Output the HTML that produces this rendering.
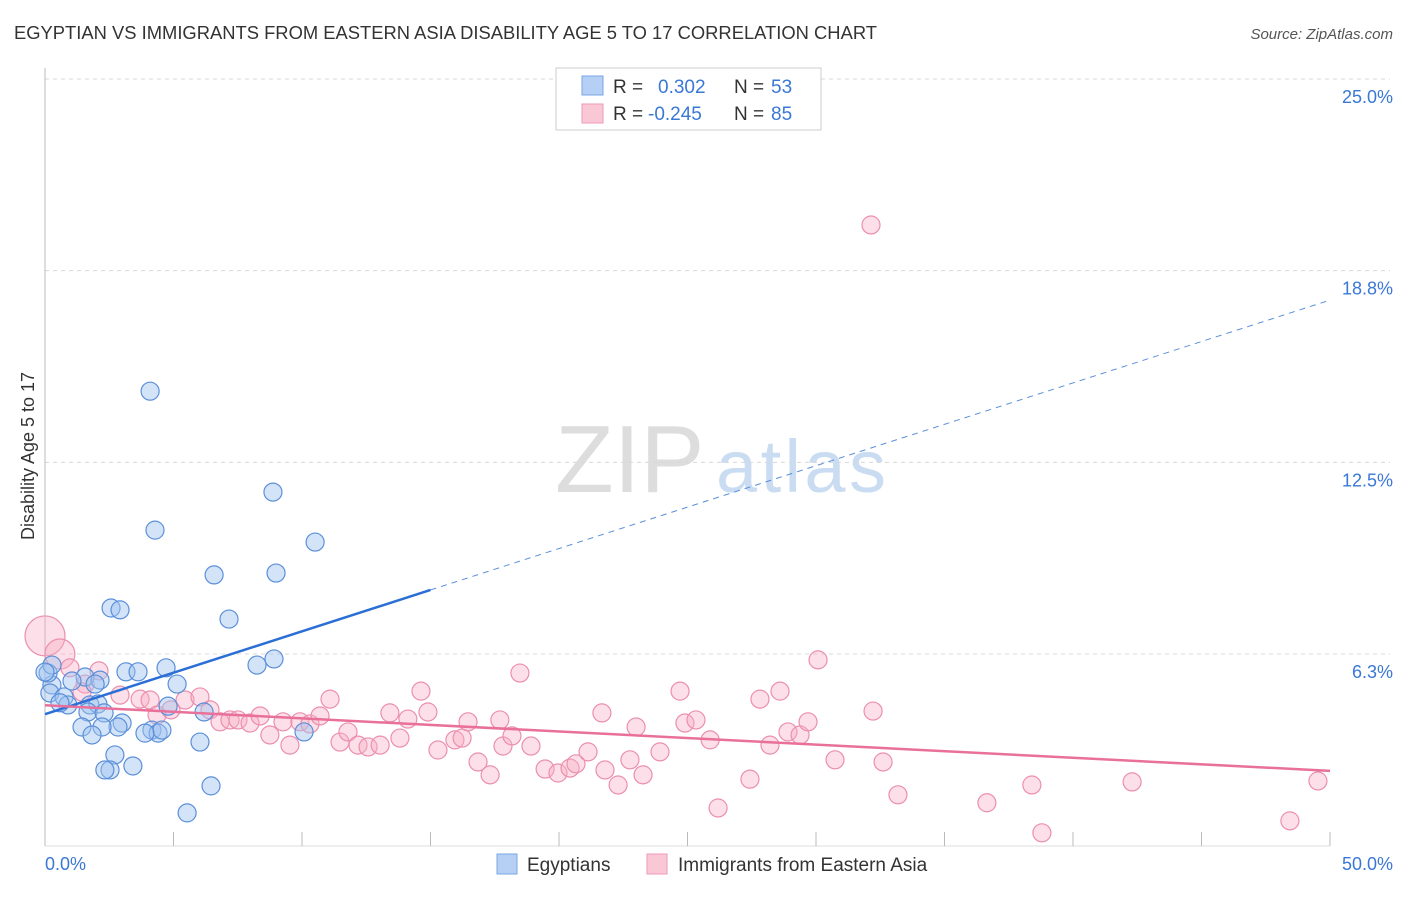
<!DOCTYPE html>
<html><head><meta charset="utf-8"><style>
body{margin:0;background:#fff;font-family:"Liberation Sans",sans-serif}
svg text{font-family:"Liberation Sans",sans-serif}
</style></head><body>
<svg id="c" width="1406" height="892" viewBox="0 0 1406 892">
<text x="14" y="39" font-size="18" fill="#333" textLength="863" lengthAdjust="spacingAndGlyphs">EGYPTIAN VS IMMIGRANTS FROM EASTERN ASIA DISABILITY AGE 5 TO 17 CORRELATION CHART</text>
<text x="1393" y="39" font-size="15" fill="#555" font-style="italic" text-anchor="end">Source: ZipAtlas.com</text>
<text x="555" y="492" font-size="96" fill="#ddd" font-family="Liberation Serif,serif">ZIP</text>
<text x="716" y="492" font-size="74" fill="#c9dcf2" textLength="170">atlas</text>
<g id="grid"></g>
<g id="marks"></g>
<text transform="translate(34,456) rotate(-90)" font-size="18" fill="#333" text-anchor="middle">Disability Age 5 to 17</text>
<g>
<rect x="556" y="68" width="265" height="62" fill="#fff" stroke="#ccc"/>
<rect x="582" y="76" width="21" height="19" fill="#b6d0f5" stroke="#7aa6e6"/>
<rect x="582" y="104" width="21" height="19" fill="#f9c7d5" stroke="#ee9ab4"/>
<text x="613" y="93" font-size="19" fill="#333">R = </text><text x="658" y="93" font-size="19" fill="#3a78d6">0.302</text>
<text x="734" y="93" font-size="19" fill="#333">N = </text><text x="771" y="93" font-size="19" fill="#3a78d6">53</text>
<text x="613" y="120" font-size="19" fill="#333">R = </text><text x="648" y="120" font-size="19" fill="#3a78d6">-0.245</text>
<text x="734" y="120" font-size="19" fill="#333">N = </text><text x="771" y="120" font-size="19" fill="#3a78d6">85</text>
</g>
<g>
<rect x="497" y="854" width="20" height="20" fill="#b6d0f5" stroke="#7aa6e6"/>
<text x="527" y="871" font-size="19" fill="#333">Egyptians</text>
<rect x="647" y="854" width="20" height="20" fill="#f9c7d5" stroke="#ee9ab4"/>
<text x="678" y="871" font-size="19" fill="#333">Immigrants from Eastern Asia</text>
</g>
</svg>
<script>
const yTicks=[25,18.75,12.5,6.25];
const yTickLabels=["25.0%","18.8%","12.5%","6.3%"];
const xTickVals=[0,5,10,15,20,25,30,35,40,45,50];
const blueX=[4.09,4.28,8.87,10.51,6.58,8.99,2.57,2.92,7.16,8.91,8.25,4.71,3.15,3.62,1.56,1.05,2.14,1.95,0.27,5.14,0.12,0.19,0.74,0.89,0.58,1.75,2.06,1.67,2.30,4.79,6.19,3.00,2.84,2.22,1.44,1.83,4.16,4.40,4.55,3.89,10.08,6.03,2.72,2.53,2.33,3.42,6.46,5.53,0.27,0.0];
const blueY=[14.82,10.29,11.53,9.90,8.83,8.89,7.75,7.69,7.39,6.09,5.89,5.80,5.67,5.67,5.50,5.37,5.40,5.27,5.24,5.27,5.63,4.98,4.85,4.59,4.66,4.59,4.62,4.36,4.33,4.55,4.36,4.00,3.87,3.87,3.87,3.61,3.77,3.67,3.77,3.67,3.71,3.38,2.96,2.47,2.47,2.60,1.95,1.07,5.89,5.66];
const pinkX=[0,0.58,0.97,2.10,1.56,1.44,2.92,3.70,4.09,4.36,4.90,5.45,6.03,6.42,6.81,7.20,7.51,7.98,8.37,8.75,9.26,9.53,9.92,10.31,10.70,11.09,11.48,11.79,12.18,12.57,13.04,13.42,13.81,14.12,14.63,14.90,15.29,15.95,16.23,16.46,16.85,17.32,17.70,17.82,18.17,18.48,18.91,19.46,19.96,20.43,20.66,21.13,21.79,21.67,22.30,22.76,23.00,23.27,23.93,24.71,24.90,25.33,25.88,26.19,27.43,27.82,28.21,28.60,28.91,29.38,29.69,30.08,30.74,32.14,32.22,32.61,33.19,36.65,38.40,38.79,42.30,48.44,49.53];
const pinkY=[6.84,6.25,5.80,5.70,5.27,5.01,4.91,4.78,4.75,4.26,4.43,4.75,4.85,4.43,4.04,4.10,4.10,4.00,4.23,3.61,4.04,3.28,4.04,3.97,4.23,4.78,3.38,3.71,3.28,3.22,3.28,4.33,3.51,4.13,5.04,4.36,3.12,3.45,3.51,4.04,2.73,2.31,4.10,3.25,3.58,5.63,3.25,2.50,2.37,2.53,2.67,3.06,2.47,4.33,1.98,2.80,3.87,2.31,3.06,5.04,4.00,4.10,3.45,1.23,2.17,4.78,3.28,5.04,3.71,3.61,4.04,6.06,2.80,20.24,4.39,2.73,1.66,1.40,1.98,0.42,2.08,0.81,2.11];
const pinkSize=[20,15];
const blueTrend=[4.29,0.27];
const pinkTrend=[4.58,-0.0428];
const X0=45,X1=1330,Y0=845.7,Y25=79;
const sx=v=>X0+(X1-X0)*v/50;
const sy=v=>Y0-(Y0-Y25)*v/25;
const NS="http://www.w3.org/2000/svg";
const grid=document.getElementById('grid'),marks=document.getElementById('marks');
function mk(tag,at,parent){const e=document.createElementNS(NS,tag);for(const k in at)e.setAttribute(k,at[k]);parent.appendChild(e);return e;}
yTicks.forEach((t,i)=>{
 const l=mk('line',{x1:X0,x2:X1+60,y1:sy(t),y2:sy(t),stroke:'#d8d8d8','stroke-dasharray':'4,4'},grid);
 
 
 const tx=mk('text',{x:1393,y:sy(t)+24,'font-size':18,fill:'#3a78d6','text-anchor':'end'},grid);
 tx.textContent=yTickLabels[i];
 
 
});
const ax=mk('line',{x1:X0,x2:X0,y1:68,y2:846,stroke:'#bbb'},grid);


const bx=mk('line',{x1:X0,x2:X1,y1:846,y2:846,stroke:'#ddd'},grid);


xTickVals.forEach(v=>{if(v===0)return;const t=mk('line',{x1:sx(v),x2:sx(v),y1:832,y2:846,stroke:'#bbb'},grid);
 
 });
const xl0=mk('text',{x:45,y:870,'font-size':18,fill:'#3a78d6'},grid);xl0.textContent='0.0%';


const xl1=mk('text',{x:1393,y:870,'font-size':18,fill:'#3a78d6','text-anchor':'end'},grid);xl1.textContent='50.0%';


pinkX.forEach((x,i)=>{const c=mk('circle',{cx:sx(x),cy:sy(pinkY[i]),r:pinkSize[i]||9,fill:'rgba(247,175,198,0.4)',stroke:'#eb8fae','stroke-width':1.2},marks);
 
 });
blueX.forEach((x,i)=>{const c=mk('circle',{cx:sx(x),cy:sy(blueY[i]),r:9,fill:'rgba(160,196,240,0.45)',stroke:'#5b8fd9','stroke-width':1.2},marks);
 
 });
const bl=mk('line',{x1:sx(0),y1:sy(blueTrend[0]),x2:sx(15),y2:sy(blueTrend[0]+blueTrend[1]*15),stroke:'#2b6fd6','stroke-width':2.5},marks);


const bd=mk('line',{x1:sx(15),y1:sy(blueTrend[0]+blueTrend[1]*15),x2:sx(50),y2:sy(blueTrend[0]+blueTrend[1]*50),stroke:'#5b8fd9','stroke-width':1,'stroke-dasharray':'6,5'},marks);


const pl=mk('line',{x1:sx(0),y1:sy(pinkTrend[0]),x2:sx(50),y2:sy(pinkTrend[0]+pinkTrend[1]*50),stroke:'#e8709a','stroke-width':2.5},marks);


</script>
</body></html>
